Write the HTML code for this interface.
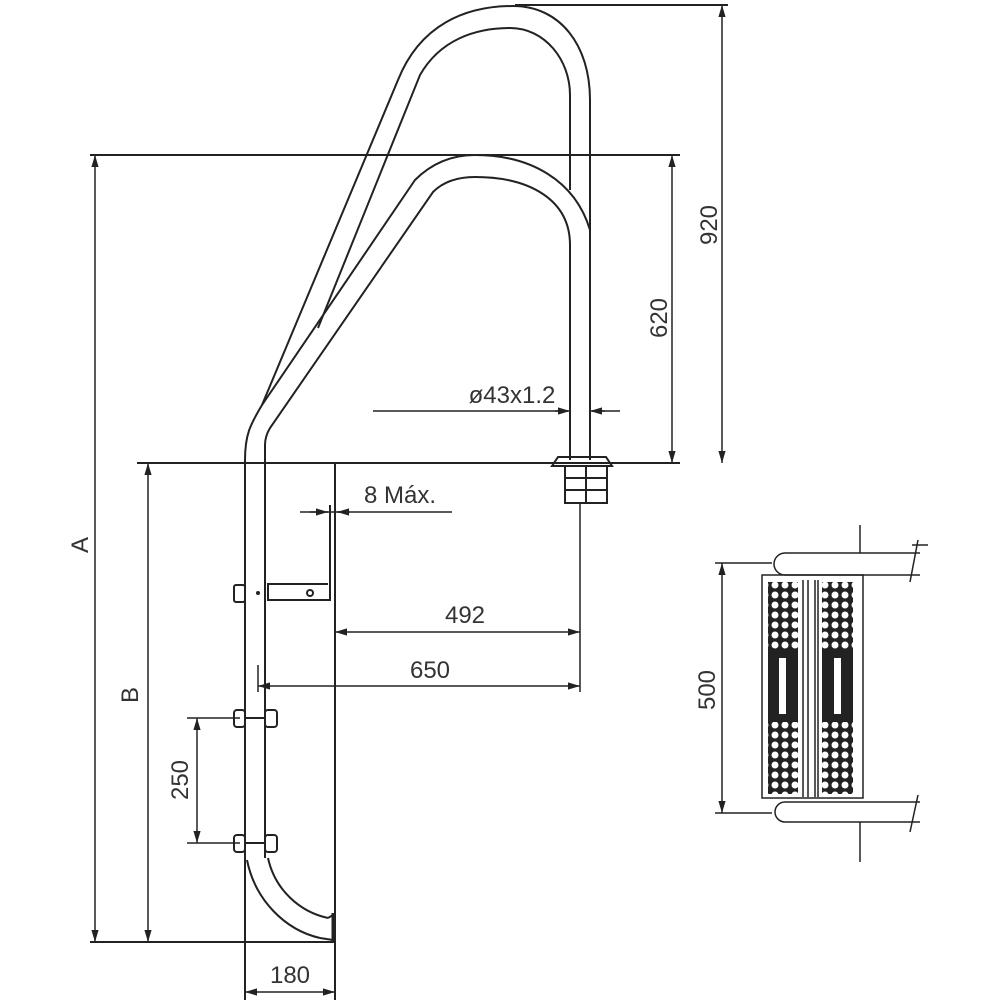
<!DOCTYPE html>
<html><head><style>html,body{margin:0;padding:0;background:#fff}svg{display:block}text{font-family:"Liberation Sans",sans-serif;fill:#333}</style></head>
<body>
<svg width="1000" height="1000" viewBox="0 0 1000 1000" xmlns="http://www.w3.org/2000/svg">
<defs>
<pattern id="dots" width="10" height="10" patternUnits="userSpaceOnUse">
<rect width="10" height="10" fill="#222"/><circle cx="5" cy="5" r="3.5" fill="#fff"/>
</pattern>
<marker id="ar" viewBox="0 0 10 10" refX="10" refY="5" markerWidth="8" markerHeight="8" orient="auto-start-reverse"><path d="M0,2 L10,5 L0,8 z" fill="#222"/></marker>
</defs>
<g fill="none" stroke="#222" stroke-width="2">
<path d="M245,460 C245,435 250,425 262,405 L398,80 C420,25 465,6 513,6 C560,6 590,45 590,100 L590,230"/>
<path d="M318,328 L420,75 C440,40 475,28 510,28 C545,28 570,60 570,95 L570,190"/>
<path d="M262,405 L415,180 C430,165 450,155 475,155 C530,155 575,180 590,230 L590,460"/>
<path d="M265,460 L265,445 C265,438 267,433 270,428 L433,192 C445,180 460,177 475,177 C530,177 570,200 570,245 L570,460"/>
<line x1="245" y1="460" x2="245" y2="1000"/>
<line x1="265" y1="460" x2="265" y2="858"/>
<path d="M247,860 C255,900 285,930 320,938"/>
<path d="M268,858 C275,890 300,912 328,918"/>
<line x1="320" y1="938" x2="333" y2="940"/>
<line x1="328" y1="918" x2="333" y2="915"/>
<line x1="333" y1="913" x2="333" y2="943" stroke-width="3"/>
<line x1="335" y1="463" x2="335" y2="1000"/>
<line x1="137" y1="463" x2="680" y2="463"/>
<line x1="90" y1="942" x2="335" y2="942"/>
<line x1="90" y1="155" x2="680" y2="155"/>
<line x1="515" y1="5" x2="728" y2="5"/>
<path d="M330,505 L330,600 L268,600 L268,584 L328,584"/>
<rect x="234" y="585" width="11" height="17" rx="2"/>
<circle cx="310" cy="593" r="3"/>
<circle cx="258" cy="593" r="1" fill="#222"/>
<rect x="234" y="710" width="11" height="17" rx="3"/><rect x="265" y="710" width="12" height="17" rx="3"/>
<rect x="234" y="835" width="11" height="17" rx="3"/><rect x="265" y="835" width="12" height="17" rx="3"/>
<line x1="245" y1="718" x2="265" y2="718"/><line x1="245" y1="843" x2="265" y2="843"/>
<path d="M552,466 L558,457 L606,457 L612,466 Z"/>
<rect x="565" y="466" width="42" height="37"/>
<line x1="565" y1="478" x2="607" y2="478"/><line x1="565" y1="490" x2="607" y2="490"/>
<line x1="586" y1="466" x2="586" y2="503"/>
<g stroke-width="1.5">
<line x1="95" y1="155" x2="95" y2="942" marker-start="url(#ar)" marker-end="url(#ar)"/>
<line x1="148" y1="463" x2="148" y2="942" marker-start="url(#ar)" marker-end="url(#ar)"/>
<line x1="722" y1="5" x2="722" y2="463" marker-start="url(#ar)" marker-end="url(#ar)"/>
<line x1="672" y1="155" x2="672" y2="463" marker-start="url(#ar)" marker-end="url(#ar)"/>
<line x1="373" y1="411" x2="568" y2="411"/><line x1="592" y1="411" x2="620" y2="411"/>
<line x1="555" y1="411" x2="570" y2="411" marker-end="url(#ar)"/>
<line x1="605" y1="411" x2="590" y2="411" marker-end="url(#ar)"/>
<line x1="300" y1="512" x2="452" y2="512"/>
<line x1="310" y1="512" x2="328" y2="512" marker-end="url(#ar)"/>
<line x1="350" y1="512" x2="337" y2="512" marker-end="url(#ar)"/>
<line x1="580" y1="503" x2="580" y2="692"/>
<line x1="335" y1="632" x2="580" y2="632" marker-start="url(#ar)" marker-end="url(#ar)"/>
<line x1="258" y1="686" x2="580" y2="686" marker-start="url(#ar)" marker-end="url(#ar)"/>
<line x1="258" y1="665" x2="258" y2="692"/>
<line x1="187" y1="718" x2="240" y2="718"/><line x1="187" y1="843" x2="240" y2="843"/>
<line x1="197" y1="718" x2="197" y2="843" marker-start="url(#ar)" marker-end="url(#ar)"/>
<line x1="245" y1="992" x2="335" y2="992" marker-start="url(#ar)" marker-end="url(#ar)"/>
</g>
</g>
<g font-size="24">
<text transform="translate(88,545) rotate(-90)" text-anchor="middle">A</text>
<text transform="translate(138,695) rotate(-90)" text-anchor="middle">B</text>
<text transform="translate(717,225) rotate(-90)" text-anchor="middle">920</text>
<text transform="translate(667,318) rotate(-90)" text-anchor="middle">620</text>
<text transform="translate(188,780) rotate(-90)" text-anchor="middle">250</text>
<text transform="translate(715,690) rotate(-90)" text-anchor="middle">500</text>
<text x="512" y="403" text-anchor="middle">ø43x1.2</text>
<text x="400" y="503" text-anchor="middle">8 Máx.</text>
<text x="465" y="623" text-anchor="middle">492</text>
<text x="430" y="678" text-anchor="middle">650</text>
<text x="290" y="983" text-anchor="middle">180</text>
</g>
<g fill="none" stroke="#222" stroke-width="1.5">
<path d="M920,553 L785,553 A11,11 0 0 0 785,575 L920,575"/>
<path d="M920,802 L785,802 A10,10 0 0 0 785,822 L920,822"/>
<path d="M912,545 L928,545 M918,540 L910,582" />
<path d="M918,795 L910,832"/>
<line x1="860" y1="525" x2="860" y2="553"/><line x1="860" y1="822" x2="860" y2="862"/>
<rect x="762" y="575" width="101" height="223"/>
<line x1="715" y1="563" x2="772" y2="563"/><line x1="715" y1="813" x2="772" y2="813"/>
<line x1="722" y1="563" x2="722" y2="813" marker-start="url(#ar)" marker-end="url(#ar)"/>
<line x1="803" y1="580" x2="803" y2="797"/><line x1="808" y1="580" x2="808" y2="797"/>
<line x1="815" y1="580" x2="815" y2="797"/><line x1="818" y1="580" x2="818" y2="797"/>
</g>
<rect x="768" y="582" width="30" height="212" fill="url(#dots)"/>
<rect x="822" y="582" width="31" height="212" fill="url(#dots)"/>
<rect x="768" y="650" width="30" height="72" fill="#222"/>
<rect x="822" y="650" width="31" height="72" fill="#222"/>
<rect x="779" y="658" width="7" height="56" fill="#fff"/>
<rect x="834" y="658" width="7" height="56" fill="#fff"/>
</svg>
</body></html>
